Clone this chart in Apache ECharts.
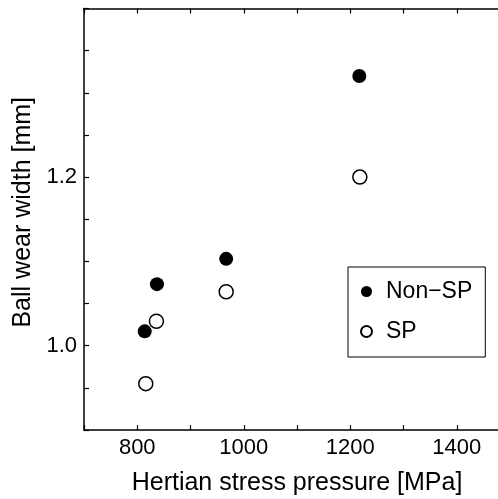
<!DOCTYPE html>
<html>
<head>
<meta charset="utf-8">
<script src="https://cdn.jsdelivr.net/npm/echarts@6/dist/echarts.min.js"></script>
<style>html,body{margin:0;padding:0;background:#fff}#c{width:498px;height:499px}</style>
</head>
<body>
<div id="c"></div>
<script>
const nonSpX = [814, 837, 967, 1217];
const nonSpY = [1.017, 1.073, 1.103, 1.320];
const spX = [816, 836, 967, 1218];
const spY = [0.955, 1.029, 1.064, 1.200];
const xLabels = [800, 1000, 1200, 1400];
const yLabels = [1.0, 1.2];

const font = 'Liberation Sans, Arial, sans-serif';
const chart = echarts.init(document.getElementById('c'));
const axisCommon = {
  axisLine: {show: true, lineStyle: {color: '#000', width: 1.5}},
  axisTick: {show: true, inside: true, length: 5, lineStyle: {color: '#000', width: 1.2}},
  splitLine: {show: false}
};
chart.setOption({
  animation: false,
  backgroundColor: '#fff',
  grid: {left: 84, top: 8.5, width: 426, height: 421.5, containLabel: false, outerBoundsMode: 'none'},
  xAxis: [
    Object.assign({
      type: 'value', min: 700, max: 1500, interval: 100, position: 'bottom',
      name: 'Hertian stress pressure [MPa]', nameLocation: 'middle', nameGap: 41,
      nameTextStyle: {fontFamily: font, fontSize: 25, color: '#000'},
      axisLabel: {fontFamily: font, fontSize: 22, color: '#000', margin: 7,
        formatter: v => xLabels.indexOf(v) >= 0 ? String(v) : ''}
    }, axisCommon),
    Object.assign({
      type: 'value', min: 700, max: 1500, interval: 100, position: 'top',
      axisLabel: {show: false}
    }, axisCommon)
  ],
  yAxis: [
    Object.assign({
      type: 'value', min: 0.9, max: 1.4, interval: 0.05,
      name: 'Ball wear width [mm]', nameLocation: 'middle', nameGap: 46,
      nameTextStyle: {fontFamily: font, fontSize: 25, color: '#000', padding: [0, 0, 0, 14]},
      axisLabel: {fontFamily: font, fontSize: 22, color: '#000', margin: 7,
        formatter: v => {
          const r = Math.round(v * 100);
          return yLabels.some(l => Math.round(l * 100) === r) ? (r / 100).toFixed(1) : '';
        }}
    }, axisCommon)
  ],
  legend: {
    left: 348, top: 267, orient: 'vertical',
    borderColor: '#000', borderWidth: 1, borderRadius: 0,
    padding: [13, 13, 14, 12], itemGap: 17, itemWidth: 11, itemHeight: 11,
    textStyle: {fontFamily: font, fontSize: 23, color: '#000', padding: [0, 0, 0, 9]},
    data: [{name: 'Non−SP', icon: 'circle'}, {name: 'SP', icon: 'circle'}]
  },
  series: [
    {
      name: 'Non−SP', type: 'scatter', symbol: 'circle', symbolSize: 14,
      itemStyle: {color: '#000', opacity: 1},
      data: nonSpX.map((x, i) => [x, nonSpY[i]])
    },
    {
      name: 'SP', type: 'scatter', symbol: 'circle', symbolSize: 14,
      itemStyle: {color: '#fff', borderColor: '#000', borderWidth: 1.5, opacity: 1},
      data: spX.map((x, i) => [x, spY[i]])
    }
  ]
});
</script>
</body>
</html>
